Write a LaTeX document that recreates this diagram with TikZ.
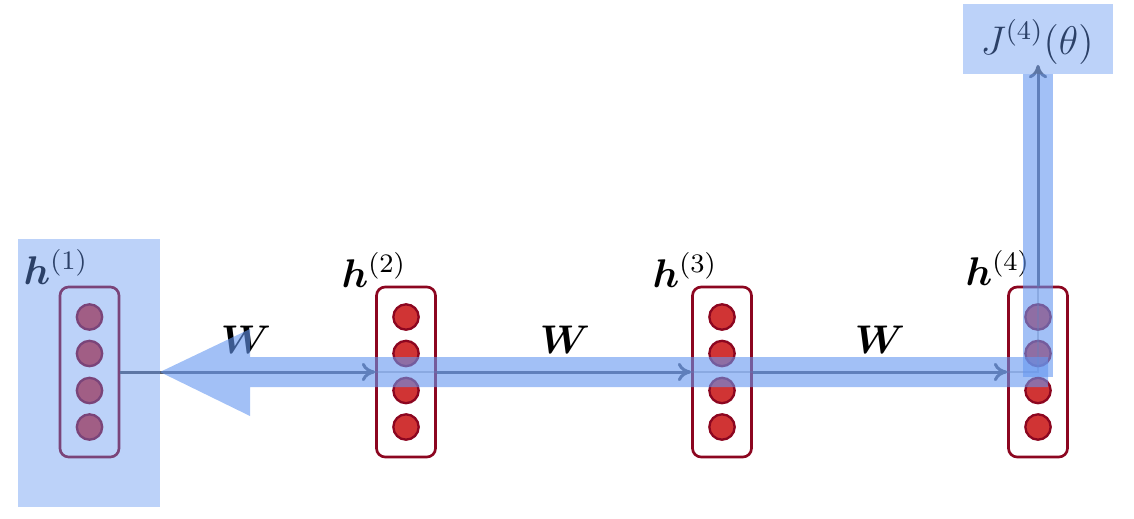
\documentclass[tikz,border=0pt]{standalone}
\usepackage{amsmath,bm}
\usetikzlibrary{arrows.meta}
\definecolor{unitred}{RGB}{208,52,52}
\definecolor{unitedge}{RGB}{140,6,32}
\definecolor{hl}{RGB}{100,150,240}
\definecolor{conncol}{RGB}{88,94,108}
\begin{document}
\begin{tikzpicture}[x=0.3pt,y=-0.3pt,
  layerbox/.style={draw=unitedge, line width=0.8pt, rounded corners=2.6pt,
    minimum width=17.7pt, minimum height=51pt, inner sep=0pt},
  unit/.style={circle, fill=unitred, draw=unitedge, line width=0.7pt,
    minimum size=7.6pt, inner sep=0pt},
  conn/.style={draw=conncol, line width=0.9pt, -{To[length=4pt,width=5.5pt]}},
  faint/.style={draw=conncol, line width=0.35pt, opacity=0.35},
  lbl/.style={font=\large, inner sep=0pt},
  shade/.style={fill=hl, opacity=0.43},
  band/.style={fill=hl, opacity=0.6}]
\useasboundingbox (0,0) rectangle (1134,518);

% hidden-state layers, each a rounded box with four units
\foreach \i/\x in {1/89.5, 2/406, 3/722, 4/1038} {
  \node[layerbox] (h\i) at (\x,372) {};
  \foreach \k/\dy in {a/-55, b/-18.5, c/18.5, d/55}
    \node[unit] (u\i\k) at (\x,372+\dy) {};
}

% layer labels
\node[lbl] (l1) at (56,267)  {$\bm{h}^{(1)}$};
\node[lbl] (l2) at (374,270) {$\bm{h}^{(2)}$};
\node[lbl] (l3) at (685,270) {$\bm{h}^{(3)}$};
\node[lbl] (l4) at (998,268) {$\bm{h}^{(4)}$};

% cost node
\node[lbl] (J) at (1037,42) {$J^{(4)}(\theta)$};

% pass-through lines inside the boxes
\draw[faint] (h2.west) -- (h2.east);
\draw[faint] (h3.west) -- (h3.east);
\draw[faint] (h4.west) -- (h4.center) -- (h4.north);

% recurrent connections
\draw[conn] (h1.east) -- (h2.west);
\draw[conn] (h2.east) -- (h3.west);
\draw[conn] (h3.east) -- (h4.west);
\draw[conn] (h4.north) -- (h4.north |- J.south);

% weight labels
\node[lbl] (w1) at (246,340) {$\bm{W}$};
\node[lbl] (w2) at (565,340) {$\bm{W}$};
\node[lbl] (w3) at (880,340) {$\bm{W}$};

% highlighted gradient path
\fill[shade] (18,239) rectangle (160,507);
\fill[shade] (963,4) rectangle (1113,74);
\fill[band] (1023,74) rectangle (1053,377);
\fill[band] (1048,357) -- (250,357) -- (250,329) -- (160,372)
  -- (250,416) -- (250,387) -- (1048,387) -- cycle;
\end{tikzpicture}
\end{document}
